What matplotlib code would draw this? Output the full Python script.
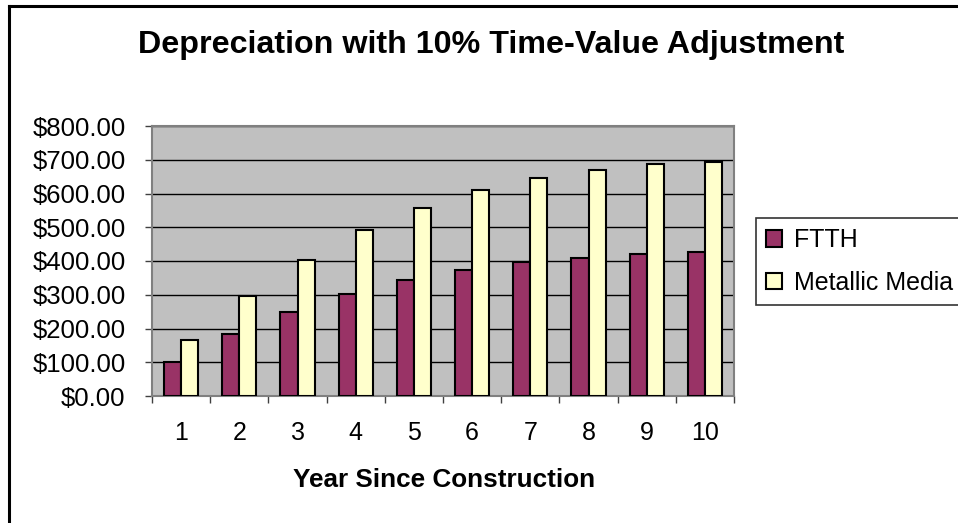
import numpy as np
import matplotlib
matplotlib.use("Agg")
import matplotlib.pyplot as plt
from matplotlib.lines import Line2D
from matplotlib.ticker import FuncFormatter, MultipleLocator, FixedLocator

plt.rcParams['font.family'] = ['Liberation Sans', 'DejaVu Sans']

years = [1, 2, 3, 4, 5, 6, 7, 8, 9, 10]
ftth = [100, 184, 249, 303, 344, 373, 396, 409, 421, 427]
metallic = [166, 296, 403, 492, 557, 610, 646, 670, 688, 693]

W, H = 958, 523
fig = plt.figure(figsize=(W / 100, H / 100), dpi=100)

# chart frame (right and bottom edges lie outside the picture)
fig.add_artist(Line2D([9 / W, 9 / W], [0, 1 - 6 / H], color='black', lw=2.2,
                      transform=fig.transFigure))
fig.add_artist(Line2D([9 / W, 1], [1 - 6 / H, 1 - 6 / H], color='black', lw=2.2,
                      transform=fig.transFigure))

ax = fig.add_axes([152 / W, 1 - 396 / H, (734 - 152) / W, (396 - 126) / H])
ax.set_facecolor('#C0C0C0')
for s in ax.spines.values():
    s.set_color('#808080')
    s.set_linewidth(1.5)

x = np.array(years)
bw = 0.295
ax.bar(x - bw / 2, ftth, bw, color='#993366', edgecolor='black', linewidth=1.5,
       label='FTTH', zorder=3)
ax.bar(x + bw / 2, metallic, bw, color='#FFFFCC', edgecolor='black', linewidth=1.5,
       label='Metallic Media', zorder=3)

ax.set_xlim(0.5, 10.5)
ax.set_ylim(0, 800)
ax.yaxis.set_major_locator(MultipleLocator(100))
ax.yaxis.set_major_formatter(FuncFormatter(lambda v, p: '${:,.2f}'.format(v).replace(',', '')))
ax.grid(axis='y', color='black', linewidth=1, zorder=0)
ax.set_axisbelow(True)

ax.set_xticks(years)
ax.xaxis.set_minor_locator(FixedLocator(np.arange(0.5, 11, 1)))
ax.tick_params(axis='x', which='major', length=0, pad=18, labelsize=18)
ax.tick_params(axis='x', which='minor', length=5, width=1, color='#404040')
ax.tick_params(axis='y', length=5, width=1, pad=14, labelsize=18.5, color='#404040')

fig.text(491 / W, 1 - 45 / H, 'Depreciation with 10% Time-Value Adjustment',
         ha='center', va='center', fontsize=23.2, fontweight='bold')
fig.text(444 / W, 1 - 480 / H, 'Year Since Construction',
         ha='center', va='center', fontsize=18.8, fontweight='bold')

leg = fig.legend(loc='upper left', bbox_to_anchor=(756 / W, 1 - 218 / H),
                 fontsize=18, frameon=True, fancybox=False, handlelength=0.65,
                 handleheight=0.65, handletextpad=0.45, borderpad=0.4,
                 labelspacing=0.75, borderaxespad=0)
leg.get_frame().set_edgecolor('black')
leg.get_frame().set_linewidth(1.2)

fig.savefig('out.png', dpi=100)
